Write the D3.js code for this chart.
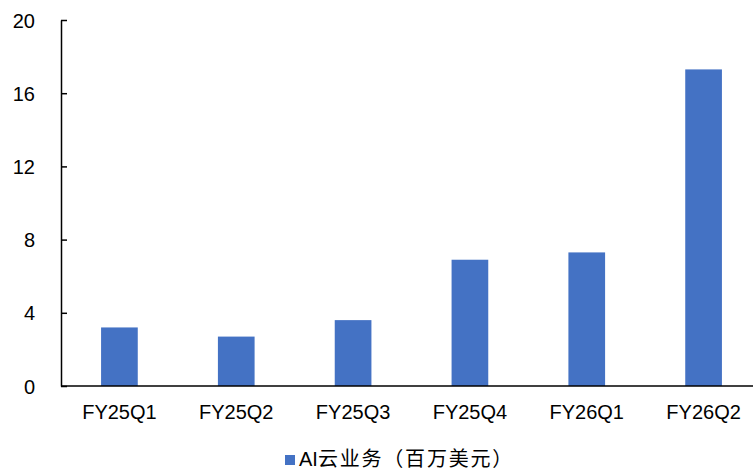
<!DOCTYPE html>
<html>
<head>
<meta charset="utf-8">
<script src="https://cdn.jsdelivr.net/npm/d3@7"></script>
<style>
  body { margin: 0; background: #fff; }
  svg { display: block; }
</style>
</head>
<body>
<script>
const quarters = ["FY25Q1", "FY25Q2", "FY25Q3", "FY25Q4", "FY26Q1", "FY26Q2"];
const aiCloud = [3.2, 2.7, 3.6, 6.9, 7.3, 17.3];
const yTicks = [0, 4, 8, 12, 16, 20];
const seriesName = "AI云业务（百万美元）";

const width = 753;
const height = 473;
const margin = ({top: 20, right: -9, bottom: 87, left: 61});
const font = "Arial, 'Liberation Sans', sans-serif";

const svg = d3.select("body").append("svg")
  .attr("width", width)
  .attr("height", height);

const x = d3.scaleBand()
  .domain(quarters)
  .range([margin.left, width - margin.right]);

const y = d3.scaleLinear()
  .domain([0, 20])
  .range([height - margin.bottom, margin.top]);

const barW = x.bandwidth() * 0.314;

svg.append("g")
    .attr("fill", "#4472C4")
  .selectAll("rect")
  .data(aiCloud)
  .join("rect")
    .attr("x", (d, i) => x(quarters[i]) + (x.bandwidth() - barW) / 2)
    .attr("y", d => y(d))
    .attr("width", barW)
    .attr("height", d => y(0) - y(d));

// y axis, ticks pointing inward
const yAxis = g => g
  .attr("transform", `translate(${margin.left},0)`)
  .call(d3.axisRight(y).tickValues(yTicks).tickSize(6).tickSizeOuter(0).tickFormat(d3.format("d")))
  .call(g => g.select(".domain").attr("stroke", "#000").attr("stroke-width", 1.5))
  .call(g => g.selectAll(".tick line").attr("stroke", "#000").attr("stroke-width", 1.5))
  .call(g => g.selectAll(".tick text")
    .attr("x", 35 - margin.left)
    .attr("text-anchor", "end")
    .attr("dy", "0.35em")
    .attr("fill", "#000")
    .attr("font-size", 20)
    .attr("font-family", font));

svg.append("g").call(yAxis);

// x axis line
svg.append("line")
  .attr("x1", margin.left)
  .attr("x2", width)
  .attr("y1", y(0))
  .attr("y2", y(0))
  .attr("stroke", "#000")
  .attr("stroke-width", 1.5);

svg.append("g")
  .selectAll("text")
  .data(quarters)
  .join("text")
    .attr("x", d => x(d) + x.bandwidth() / 2)
    .attr("y", 419)
    .attr("text-anchor", "middle")
    .attr("font-size", 20)
    .attr("font-family", font)
    .text(d => d);

// legend
const legend = svg.append("g").attr("transform", "translate(285,455)");
legend.append("rect")
  .attr("width", 10)
  .attr("height", 10)
  .attr("fill", "#4472C4");
const lt = legend.append("text")
  .attr("x", 14)
  .attr("y", 11)
  .attr("font-size", 20)
  .attr("font-family", "Arial, 'Liberation Sans', 'Noto Sans CJK SC', sans-serif");
lt.append("tspan").text(seriesName.slice(0, 2));
lt.append("tspan")
  .attr("letter-spacing", 1.8)
  .text(seriesName.slice(2));
</script>
</body>
</html>
